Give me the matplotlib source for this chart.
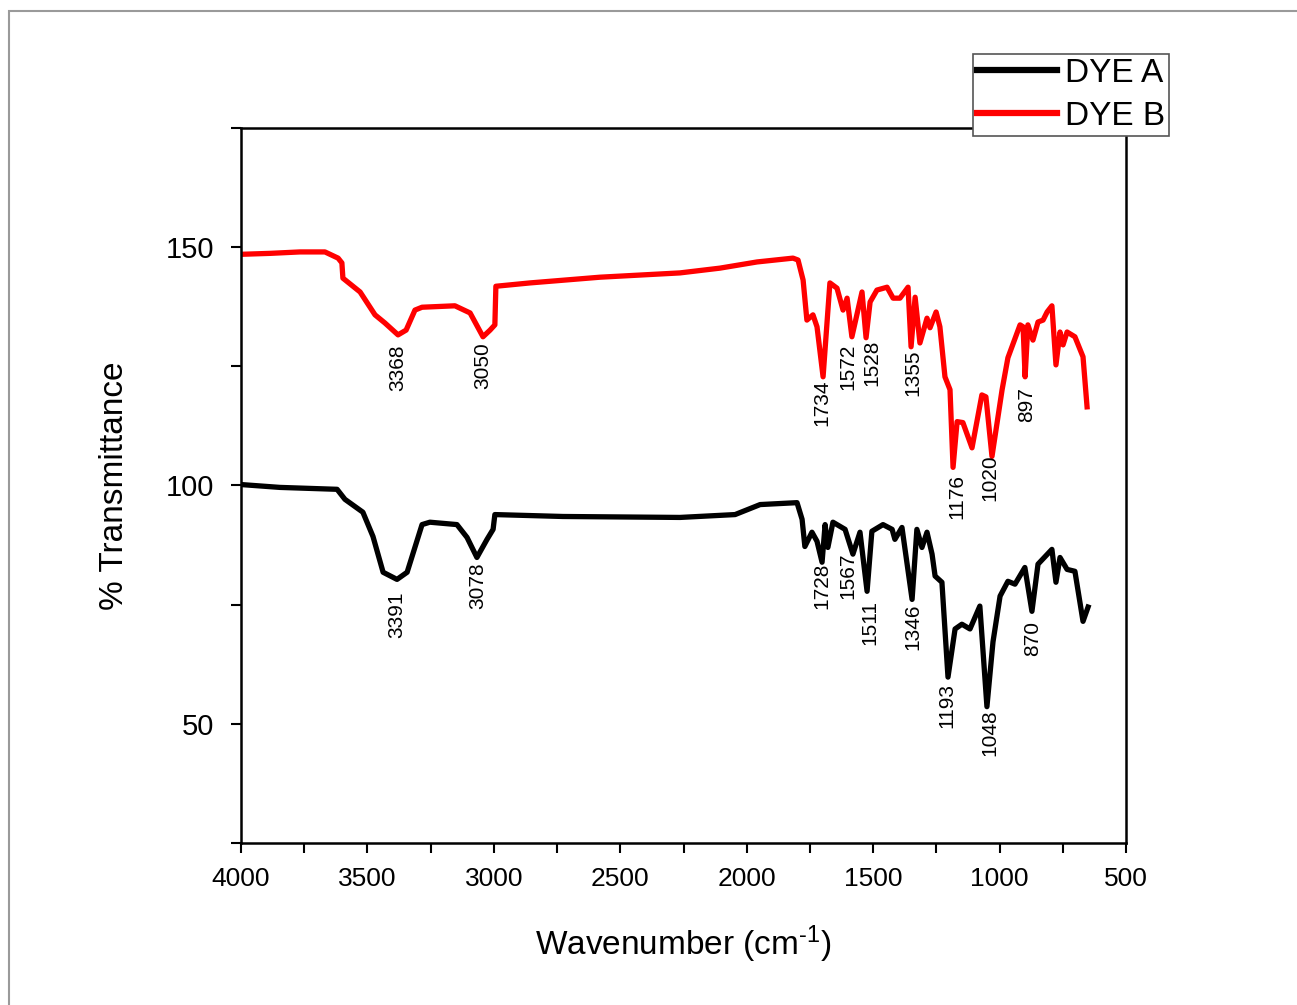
import numpy as np
import matplotlib
matplotlib.use("Agg")
import matplotlib.pyplot as plt
from matplotlib.patches import Rectangle

plt.rcParams['font.family'] = ['Liberation Sans', 'DejaVu Sans']
plt.rcParams['mathtext.fontset'] = 'custom'
plt.rcParams['mathtext.rm'] = 'Liberation Sans'
plt.rcParams['mathtext.it'] = 'Liberation Sans'

# Spectre DYE A (noir)
wn_a = [4000, 3846, 3620, 3589, 3518, 3478, 3438, 3383, 3343, 3284, 3253, 3146,
        3106, 3067, 3027, 3003, 2996, 2727, 2264, 2046, 1947, 1801, 1781, 1770,
        1742, 1722, 1702, 1690, 1679, 1659, 1611, 1580, 1552, 1524, 1505, 1461,
        1425, 1414, 1386, 1346, 1327, 1307, 1287, 1267, 1255, 1228, 1204, 1176,
        1149, 1117, 1078, 1050, 1026, 998, 967, 939, 900, 872, 848, 793, 777,
        761, 733, 702, 670, 650]
tr_a = [100.2, 99.6, 99.2, 97.1, 94.4, 89.3, 81.8, 80.3, 81.8, 91.8, 92.3, 91.8,
        89.1, 84.9, 88.7, 90.8, 93.9, 93.5, 93.3, 93.9, 96.0, 96.4, 92.9, 87.2,
        90.2, 88.3, 83.9, 91.8, 87.0, 92.3, 90.8, 85.6, 90.2, 77.8, 90.4, 91.8,
        90.8, 88.7, 91.2, 76.1, 90.8, 87.0, 90.2, 85.6, 81.0, 79.7, 59.8, 69.9,
        70.9, 69.9, 74.7, 53.6, 67.2, 76.8, 79.9, 79.3, 82.8, 73.6, 83.5, 86.6,
        79.7, 84.9, 82.4, 82.0, 71.5, 74.5]

# Spectre DYE B (rouge)
wn_b = [4000, 3885, 3767, 3668, 3616, 3601, 3597, 3529, 3470, 3431, 3379, 3347,
        3312, 3284, 3154, 3094, 3043, 3015, 2996, 2992, 2857, 2580, 2264, 2106,
        1959, 1817, 1797, 1777, 1762, 1738, 1722, 1698, 1671, 1643, 1619, 1603,
        1584, 1544, 1528, 1512, 1485, 1445, 1421, 1394, 1362, 1350, 1334, 1315,
        1287, 1275, 1251, 1236, 1216, 1196, 1184, 1168, 1145, 1109, 1070, 1054,
        1030, 990, 967, 919, 907, 899, 888, 868, 848, 828, 812, 793, 777, 761,
        749, 733, 702, 670, 654]
tr_b = [148.5, 148.7, 149.0, 149.0, 147.7, 146.7, 143.5, 140.6, 135.8, 134.1,
        131.6, 132.6, 136.8, 137.4, 137.7, 136.2, 131.2, 132.6, 133.7, 141.8,
        142.5, 143.7, 144.6, 145.6, 146.9, 147.7, 147.3, 143.1, 134.7, 135.8,
        133.3, 122.8, 142.5, 141.4, 136.8, 139.3, 131.2, 140.6, 131.0, 138.5,
        141.0, 141.6, 139.3, 139.3, 141.6, 129.1, 139.5, 129.9, 135.1, 133.1,
        136.4, 133.3, 122.8, 120.1, 103.8, 113.4, 113.2, 107.9, 119.0, 118.6,
        106.1, 120.1, 126.8, 133.7, 133.3, 122.8, 133.7, 130.5, 134.3, 134.7,
        136.4, 137.7, 125.3, 132.2, 129.5, 132.2, 131.2, 127.0, 116.5]

# étiquettes des pics : texte, position x, position y
pics_a = ['3391', '3078', '1728', '1567', '1511', '1346', '1193', '1048', '870']
pics_a_x = [3383, 3063, 1702, 1599, 1512, 1342, 1208, 1038, 868]
pics_a_y = [72.8, 78.9, 78.9, 81.0, 71.3, 70.3, 53.8, 48.1, 67.8]

pics_b = ['3368', '3050', '1734', '1572', '1528', '1355', '1176', '1020', '897']
pics_b_x = [3379, 3043, 1702, 1599, 1505, 1342, 1168, 1038, 892]
pics_b_y = [124.7, 125.1, 117.4, 124.9, 125.7, 123.6, 97.7, 101.7, 116.9]

fig = plt.figure(figsize=(12.97, 10.05), dpi=100)
ax = fig.add_axes([241/1297, 1 - 843/1005, (1126 - 241)/1297, (843 - 128)/1005])

# cadre gris autour de la figure
fig.patches.append(Rectangle((9/1297, -0.05), 1.1, 1.05 - 11/1005,
                             transform=fig.transFigure, fill=False,
                             edgecolor='#9a9a9a', linewidth=1.5))

ax.plot(wn_a, tr_a, color='black', lw=3.8, label='DYE A', solid_joinstyle='round')
ax.plot(wn_b, tr_b, color='#ff0000', lw=3.8, label='DYE B', solid_joinstyle='round')

for txt, x, y in zip(pics_a, pics_a_x, pics_a_y):
    ax.text(x, y, txt, rotation=90, ha='center', va='center', fontsize=15)
for txt, x, y in zip(pics_b, pics_b_x, pics_b_y):
    ax.text(x, y, txt, rotation=90, ha='center', va='center', fontsize=15)

ax.set_xlim(4000, 500)
ax.set_ylim(25, 175)
ax.set_xticks(np.arange(4000, 499, -500))
ax.set_xticks(np.arange(3750, 500, -500), minor=True)
ax.set_yticks([50, 100, 150])
ax.set_yticks([25, 75, 125, 175], minor=True)
ax.tick_params(which='both', direction='out', width=1.5, length=7)
ax.tick_params(axis='x', labelsize=19, pad=10)
ax.tick_params(axis='y', labelsize=21, pad=12)
for s in ax.spines.values():
    s.set_linewidth(1.8)

ax.set_xlabel(r'Wavenumber (cm$^{\text{-1}}$)', fontsize=24, labelpad=24)
ax.set_ylabel('% Transmittance', fontsize=24, labelpad=26)

leg = ax.legend(loc='upper left', bbox_to_anchor=(973/1297, 1 - 54/1005),
                bbox_transform=fig.transFigure, borderaxespad=0, fontsize=24,
                handlelength=2.4, handletextpad=0.25, borderpad=0.12,
                labelspacing=0.35, fancybox=False, framealpha=1)
leg.get_frame().set_edgecolor('#555555')
leg.get_frame().set_linewidth(1.2)
for l in leg.get_lines():
    l.set_linewidth(4.5)

plt.savefig('out.png', dpi=100)
